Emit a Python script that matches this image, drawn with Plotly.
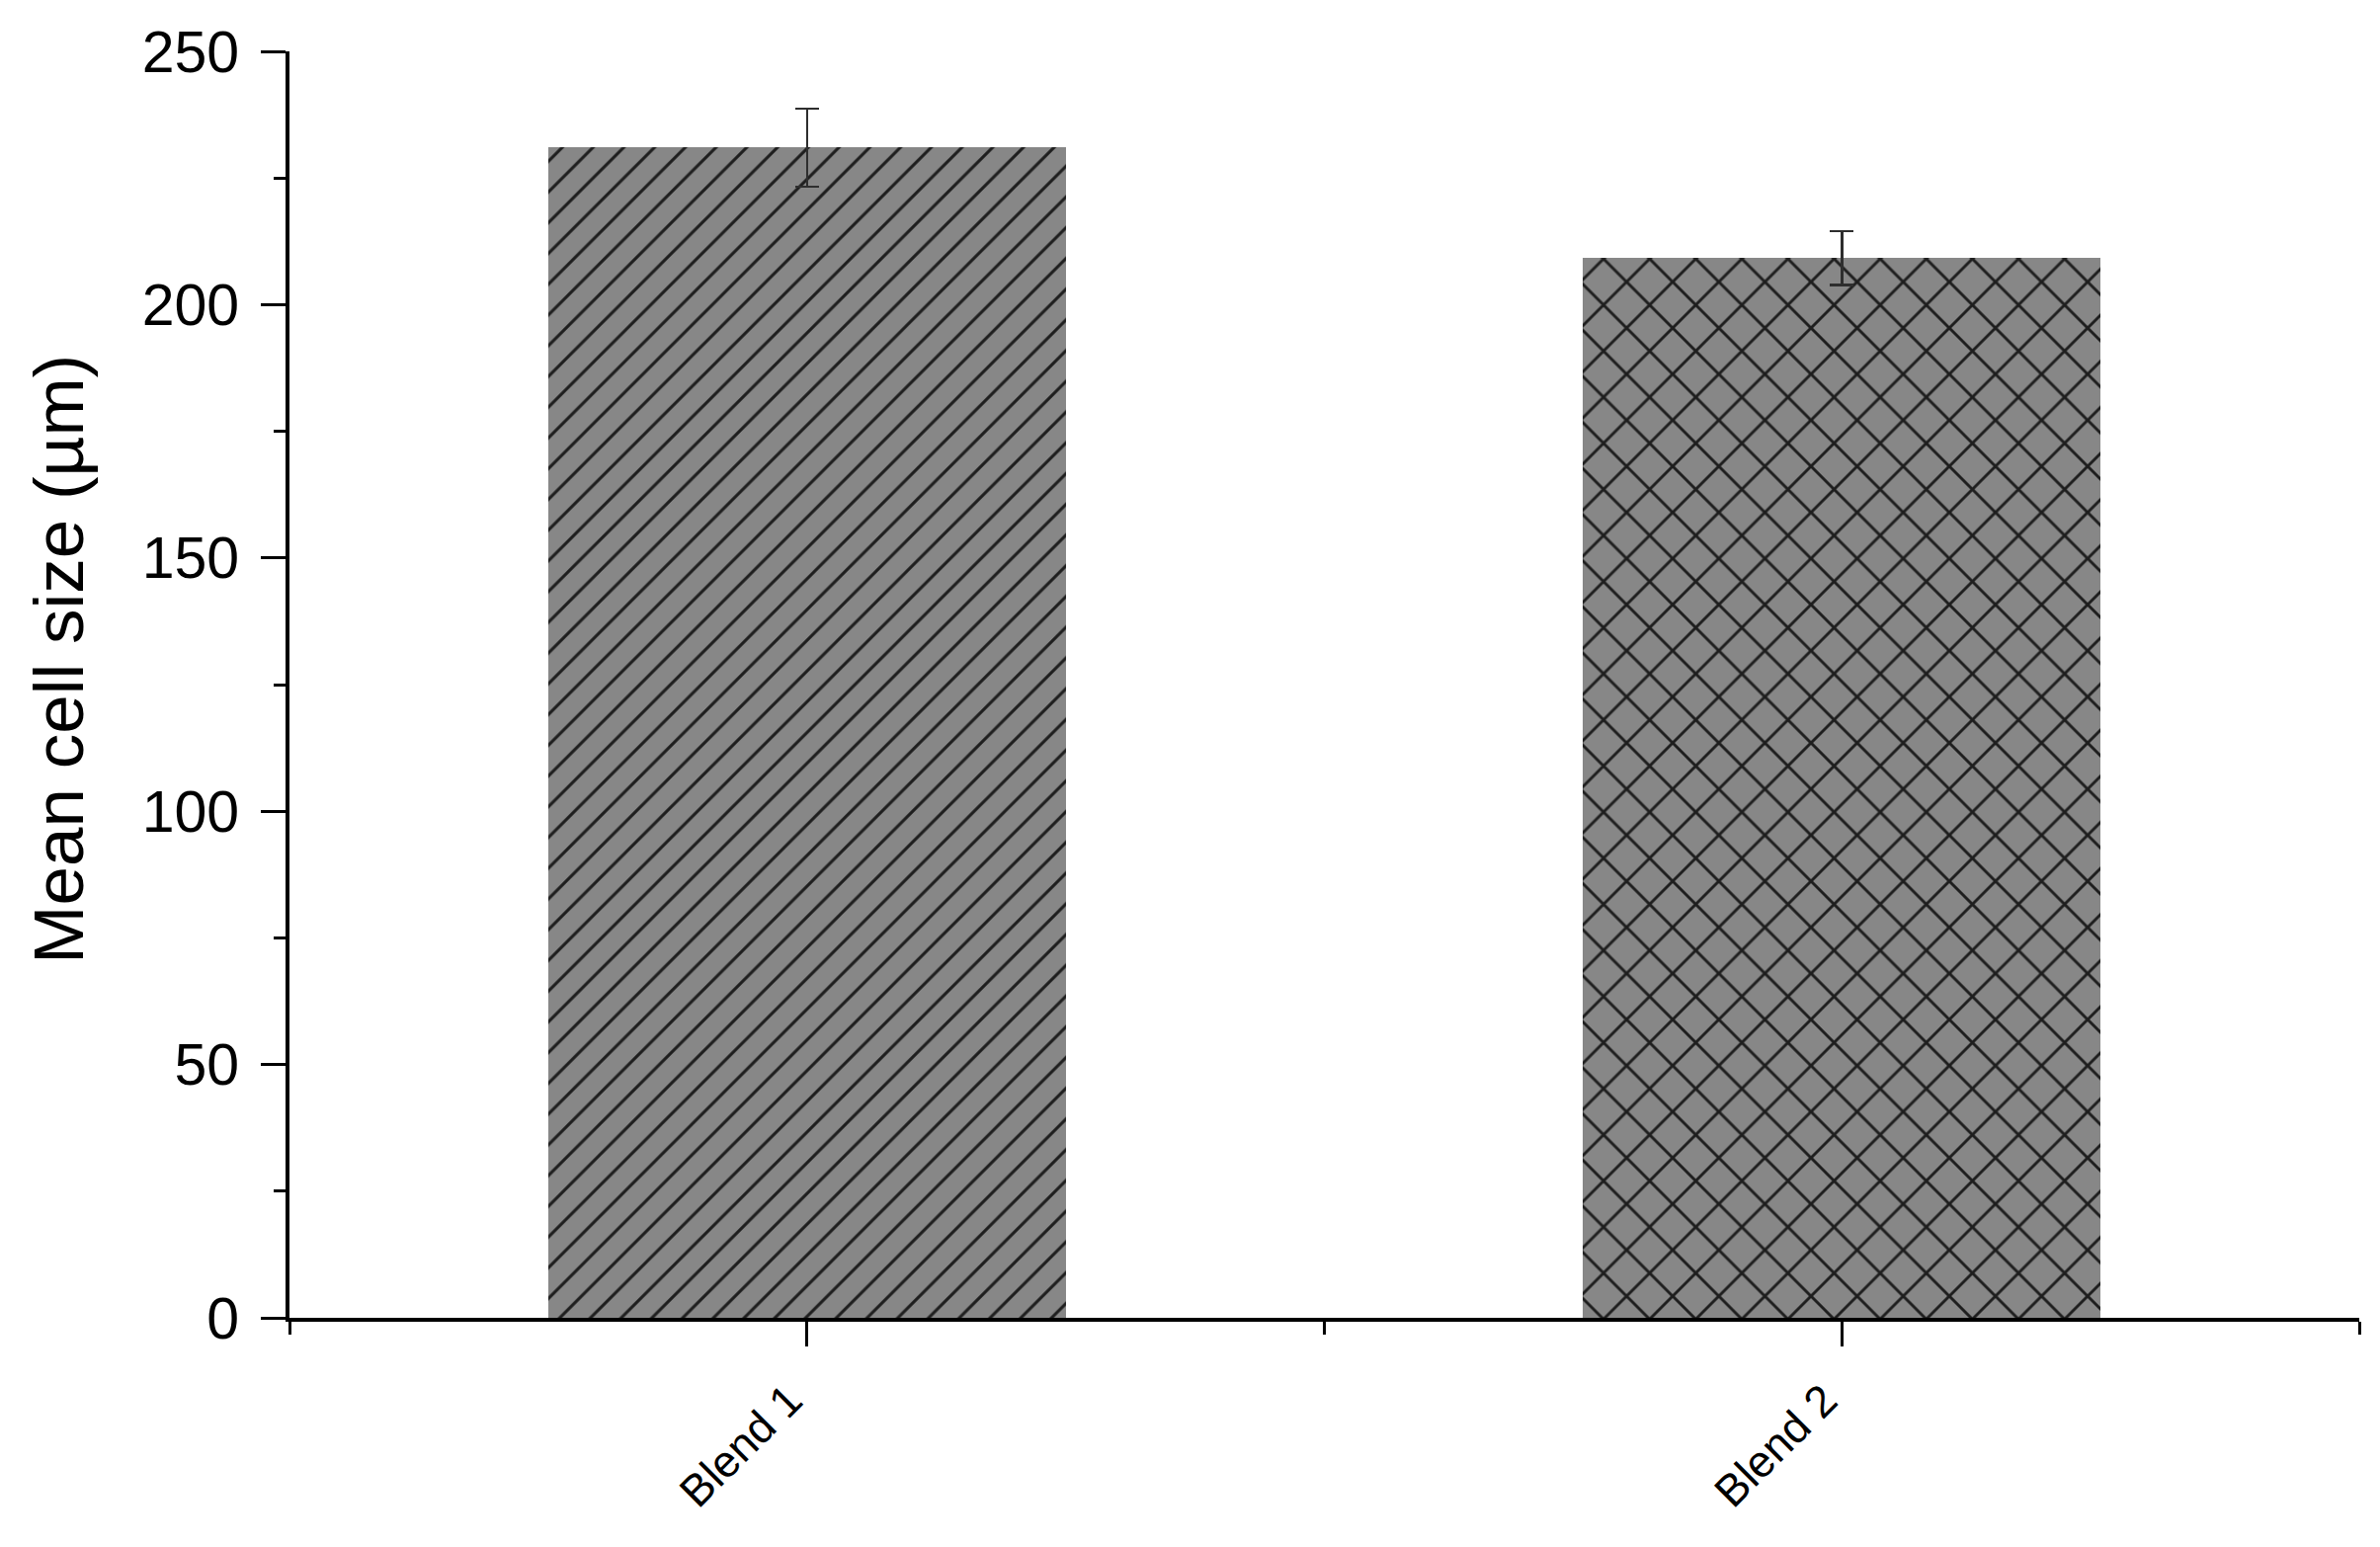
import plotly.graph_objects as go

categories = ["Blend 1", "Blend 2"]
mean_cell_size = [231.0, 209.2]
error_sd = [7.7, 5.3]
patterns = ["/", "x"]
pattern_sizes = [22, 33]
pattern_solidity = [0.14, 0.17]
y_ticks = [0, 50, 100, 150, 200, 250]

W, H = 2409, 1566
L, R, T, B = 285, 29, 36, 240

fig = go.Figure()
for i, cat in enumerate(categories):
    fig.add_trace(go.Bar(
        x=[i], y=[mean_cell_size[i]], width=0.5,
        error_y=dict(type="data", array=[error_sd[i]], color="#2e2e2e", thickness=2.5, width=12),
        marker=dict(color="#878787", line=dict(width=0),
                    pattern=dict(shape=patterns[i], size=pattern_sizes[i], solidity=pattern_solidity[i],
                                 fgcolor="#1e1e1e", bgcolor="#878787", fillmode="replace")),
        showlegend=False, name=cat,
    ))

fig.update_layout(
    width=W, height=H,
    margin=dict(l=L, r=R, t=T, b=B, pad=0),
    plot_bgcolor="white", paper_bgcolor="white",
    font=dict(family="Liberation Sans, Arial", color="black"),
    bargap=0,
)
fig.update_xaxes(
    range=[-0.5, 1.5], tickmode="array", tickvals=[0, 1], ticktext=categories,
    tickangle=-45, tickfont=dict(size=45), ticks="outside", ticklen=25, tickwidth=3,
    ticklabelshift=-18, ticklabelstandoff=10,
    tickcolor="black", showline=True, linecolor="black", linewidth=4, showgrid=False, zeroline=False,
    minor=dict(tickmode="array", tickvals=[-0.5, 0.5, 1.5], ticks="outside", ticklen=13, tickwidth=3,
               tickcolor="black", showgrid=False),
)
fig.update_yaxes(
    range=[0, 250], tickmode="array", tickvals=y_ticks, tickfont=dict(size=59),
    ticks="outside", ticklen=25, tickwidth=3, tickcolor="black", ticklabelstandoff=10,
    showline=True, linecolor="black", linewidth=4, showgrid=False, zeroline=False,
    minor=dict(dtick=25, ticks="outside", ticklen=12, tickwidth=3, tickcolor="black", showgrid=False),
)
plot_w = W - L - R
plot_h = H - T - B
fig.add_annotation(
    text="Mean cell size (µm)", textangle=-90, showarrow=False,
    xref="paper", yref="paper", x=-(L - 10) / plot_w, xanchor="left",
    y=(H - B - 655) / plot_h, yanchor="middle", font=dict(size=71, color="black"),
)
fig.write_html("out.html")
